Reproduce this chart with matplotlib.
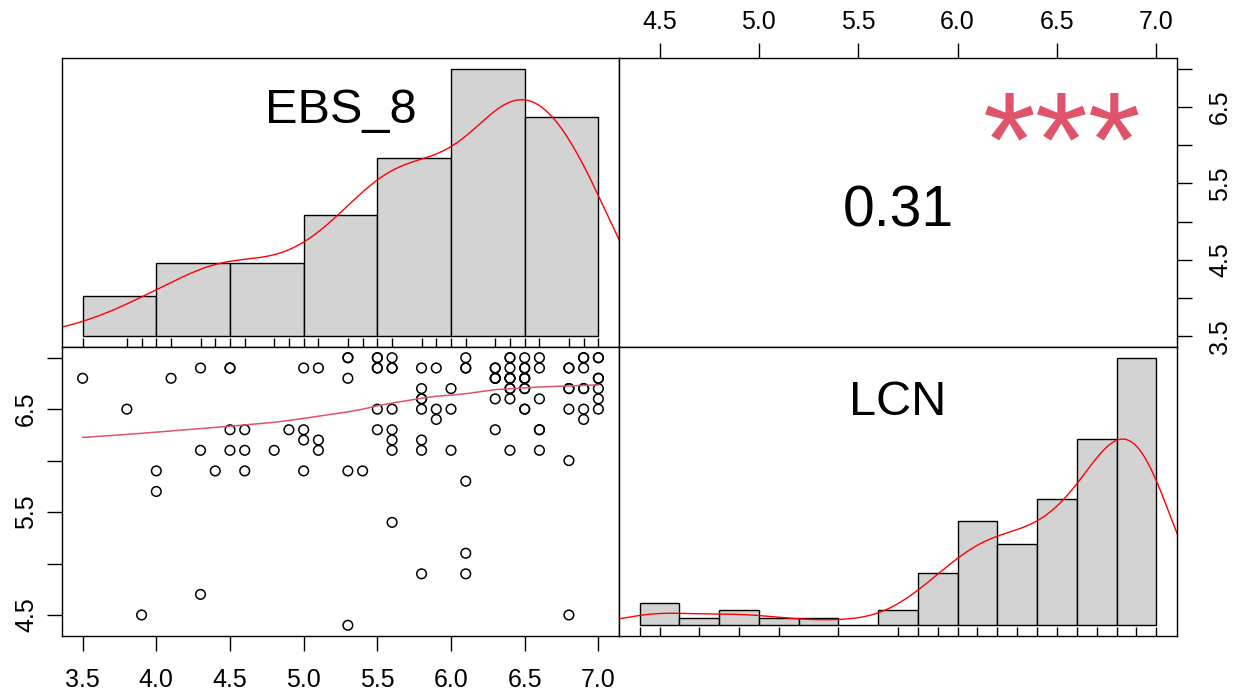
import numpy as np
import matplotlib
matplotlib.use("Agg")
import matplotlib.pyplot as plt

plt.rcParams["font.family"] = ["Liberation Sans", "DejaVu Sans"]

# distinct (EBS_8, LCN) answers and how many respondents gave each pair
ebs_8 = [3.5, 3.8, 4.1, 4.3, 4.5, 5.0, 5.1, 4.5, 4.6, 4.9, 5.0, 5.0, 5.1, 5.1, 4.3, 4.5,
         4.6, 4.8, 4.0, 4.0, 4.4, 4.6, 5.0, 4.3, 3.9,
         5.3, 5.3, 5.3, 5.3, 5.4,
         5.5, 5.5, 5.5, 5.5,
         5.6, 5.6, 5.6, 5.6, 5.6, 5.6, 5.6,
         5.8, 5.8, 5.8, 5.8, 5.8, 5.8, 5.8,
         5.9, 5.9, 5.9,
         6.0, 6.0, 6.0,
         6.1, 6.1, 6.1, 6.1, 6.1,
         6.3, 6.3, 6.3, 6.3,
         6.4, 6.4, 6.4, 6.4, 6.4, 6.4,
         6.5, 6.5, 6.5, 6.5, 6.5,
         6.6, 6.6, 6.6, 6.6, 6.6,
         6.8, 6.8, 6.8, 6.8, 6.8,
         6.9, 6.9, 6.9, 6.9, 6.9,
         7.0, 7.0, 7.0, 7.0, 7.0]
lcn = [6.8, 6.5, 6.8, 6.9, 6.9, 6.9, 6.9, 6.3, 6.3, 6.3, 6.3, 6.2, 6.2, 6.1, 6.1, 6.1,
       6.1, 6.1, 5.9, 5.7, 5.9, 5.9, 5.9, 4.7, 4.5,
       7.0, 6.8, 5.9, 4.4, 5.9,
       7.0, 6.9, 6.5, 6.3,
       7.0, 6.9, 6.5, 6.3, 6.2, 6.1, 5.4,
       6.9, 6.7, 6.6, 6.5, 6.2, 6.1, 4.9,
       6.9, 6.5, 6.4,
       6.7, 6.5, 6.1,
       7.0, 6.9, 5.8, 5.1, 4.9,
       6.9, 6.8, 6.6, 6.3,
       7.0, 6.9, 6.8, 6.7, 6.6, 6.1,
       7.0, 6.9, 6.8, 6.7, 6.5,
       7.0, 6.9, 6.6, 6.3, 6.1,
       6.9, 6.7, 6.5, 6.0, 4.5,
       7.0, 6.9, 6.7, 6.5, 6.4,
       7.0, 6.8, 6.7, 6.6, 6.5]
n_resp = [1, 1, 1, 1, 2, 1, 1, 1, 1, 1, 1, 1, 1, 1, 1, 1,
          1, 1, 1, 1, 1, 1, 1, 1, 1,
          2, 1, 1, 1, 1,
          2, 2, 1, 1,
          1, 2, 1, 1, 1, 1, 1,
          1, 1, 2, 1, 1, 1, 1,
          1, 1, 1,
          1, 1, 1,
          1, 2, 1, 1, 1,
          2, 3, 1, 1,
          2, 1, 3, 2, 1, 1,
          1, 2, 3, 2, 2,
          1, 1, 1, 2, 1,
          2, 2, 1, 1, 1,
          2, 1, 2, 1, 1,
          2, 2, 1, 1, 1]

ebs_breaks = [3.5, 4.0, 4.5, 5.0, 5.5, 6.0, 6.5, 7.0]
lcn_breaks = [4.4, 4.6, 4.8, 5.0, 5.2, 5.4, 5.6, 5.8, 6.0, 6.2, 6.4, 6.6, 6.8, 7.0]

x = np.repeat(ebs_8, n_resp)
y = np.repeat(lcn, n_resp)

GRAY = "#D3D3D3"
PINK = "#DF536B"


def padded(v):
    lo, hi = np.min(v), np.max(v)
    d = 0.04 * (hi - lo)
    return lo - d, hi + d


def hist_density(v, breaks):
    breaks = np.asarray(breaks, dtype=float)
    fuzz = 1e-7 * np.median(np.diff(breaks))
    edges = breaks + fuzz
    edges[0] = breaks[0] - fuzz
    counts = np.histogram(v, edges)[0]
    return counts / (len(v) * np.diff(breaks))


def kde(v):
    n = len(v)
    iqr = np.subtract(*np.percentile(v, [75, 25]))
    bw = 0.9 * min(np.std(v, ddof=1), iqr / 1.34) * n ** -0.2
    grid = np.linspace(v.min() - 3 * bw, v.max() + 3 * bw, 512)
    z = (grid[:, None] - v[None, :]) / bw
    return grid, np.exp(-0.5 * z ** 2).sum(axis=1) / (n * bw * np.sqrt(2 * np.pi))


def lowess(xv, yv, f=2 / 3, iters=3):
    order = np.argsort(xv, kind="stable")
    xs, ys = xv[order], yv[order]
    n = len(xs)
    ns = max(min(int(f * n + 1e-7), n), 2)
    rw = np.ones(n)
    fit = np.zeros(n)
    idx = np.arange(n)
    span = xs[-1] - xs[0]
    for it in range(iters + 1):
        nl, nr = 0, ns - 1
        for i in range(n):
            while nr < n - 1 and xs[i] - xs[nl] > xs[nr + 1] - xs[i]:
                nl += 1
                nr += 1
            h = max(xs[i] - xs[nl], xs[nr] - xs[i])
            r = np.abs(xs - xs[i])
            keep = (idx >= nl) & (r <= 0.999 * h)
            w = np.where(r <= 0.001 * h, 1.0, (1 - (r / h) ** 3) ** 3) * keep * rw
            if w.sum() <= 0:
                fit[i] = ys[i]
                continue
            w = w / w.sum()
            if h > 0:
                a = np.sum(w * xs)
                c = np.sum(w * (xs - a) ** 2)
                if np.sqrt(c) > 0.001 * span:
                    w = w * ((xs[i] - a) / c * (xs - a) + 1)
            fit[i] = np.sum(w * ys)
        if it == iters:
            break
        res = ys - fit
        cmad = 6 * np.median(np.abs(res))
        if cmad < 1e-7 * np.mean(np.abs(ys)):
            break
        ar = np.abs(res)
        rw = np.where(ar <= 0.001 * cmad, 1.0,
                      np.where(ar <= 0.999 * cmad, (1 - (ar / cmad) ** 2) ** 2, 0.0))
    return xs, fit


def diag_panel(ax, v, breaks, label, label_y):
    dens = hist_density(v, breaks)
    ax.bar(breaks[:-1], dens, width=np.diff(breaks), align="edge",
           color=GRAY, edgecolor="black", linewidth=1.0)
    top = dens.max()
    ylo, yhi = -0.04 * top, 1.04 * top
    ax.set_ylim(ylo, yhi)
    gx, gy = kde(v)
    ax.plot(gx, gy, color="red", linewidth=1.0)
    ax.vlines(np.unique(v), ylo, ylo + 0.03 * (yhi - ylo), color="black", linewidth=1.0)
    ax.text(0.5, label_y, label, transform=ax.transAxes, ha="center",
            va="baseline", fontsize=35)


fig = plt.figure(figsize=(12.4, 6.94), dpi=100)
ax_tl = fig.add_axes([0.05, 0.5, 0.4492, 0.4164])
ax_tr = fig.add_axes([0.4992, 0.5, 0.45, 0.4164])
ax_bl = fig.add_axes([0.05, 0.0836, 0.4492, 0.4164])
ax_br = fig.add_axes([0.4992, 0.0836, 0.45, 0.4164])

xlim = padded(x)
ylim = padded(y)

for ax in (ax_tl, ax_tr, ax_bl, ax_br):
    for s in ax.spines.values():
        s.set_linewidth(1.0)
    ax.tick_params(length=10.8, width=1.0, labelsize=18, direction="out")

# diagonal: histograms
ax_tl.set_xlim(xlim)
diag_panel(ax_tl, x, ebs_breaks, "EBS_8", 0.774)
ax_tl.set_xticks([])
ax_tl.set_yticks([])

ax_br.set_xlim(ylim)
diag_panel(ax_br, y, lcn_breaks, "LCN", 0.765)
ax_br.set_xticks([])
ax_br.set_yticks([])

# lower: scatter + lowess
ax_bl.scatter(x, y, s=48, facecolors="none", edgecolors="black", linewidths=1.1)
lx, ly = lowess(x, y)
ax_bl.plot(lx, ly, color=PINK, linewidth=1.1)
ax_bl.set_xlim(xlim)
ax_bl.set_ylim(ylim)
ax_bl.set_xticks([3.5, 4.0, 4.5, 5.0, 5.5, 6.0, 6.5, 7.0])
ax_bl.set_xticklabels(["3.5", "4.0", "4.5", "5.0", "5.5", "6.0", "6.5", "7.0"])
ax_bl.set_yticks([4.5, 5.0, 5.5, 6.0, 6.5, 7.0])
ax_bl.set_yticklabels(["4.5", "", "5.5", "", "6.5", ""], rotation=90, va="center")
ax_bl.tick_params(axis="x", pad=12)
ax_bl.tick_params(axis="y", pad=6.5)

# upper: correlation
r = np.corrcoef(x, y)[0, 1]
ax_tr.set_xlim(ylim)
ax_tr.set_ylim(xlim)
ax_tr.xaxis.tick_top()
ax_tr.yaxis.tick_right()
ax_tr.set_xticks([4.5, 5.0, 5.5, 6.0, 6.5, 7.0])
ax_tr.set_xticklabels(["4.5", "5.0", "5.5", "6.0", "6.5", "7.0"])
ax_tr.set_yticks([3.5, 4.0, 4.5, 5.0, 5.5, 6.0, 6.5, 7.0])
ax_tr.set_yticklabels(["3.5", "", "4.5", "", "5.5", "", "6.5", ""], rotation=90, va="center")
ax_tr.tick_params(axis="x", pad=6.5)
ax_tr.tick_params(axis="y", pad=11.5)
ax_tr.text(0.5, 0.416, f"{r:.2f}", transform=ax_tr.transAxes, ha="center",
           va="baseline", fontsize=41)
ax_tr.text(0.795, 0.559, "***", transform=ax_tr.transAxes, ha="center",
           va="baseline", fontsize=98, color=PINK)

fig.savefig("out.png", dpi=100)
